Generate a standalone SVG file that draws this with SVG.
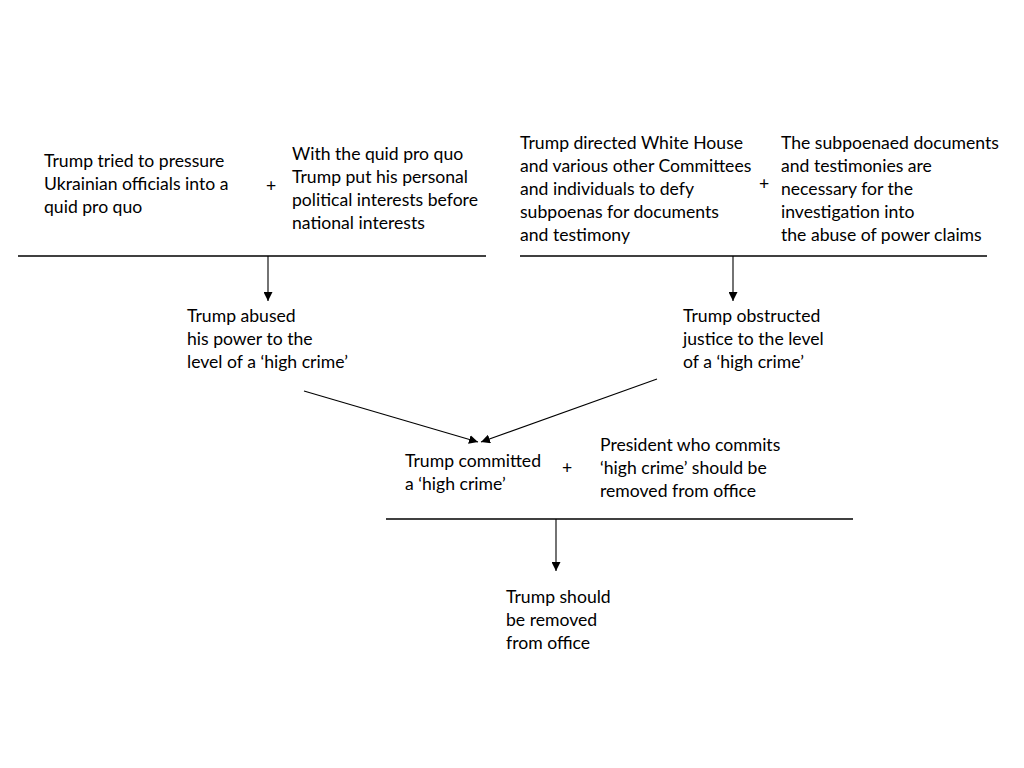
<svg xmlns="http://www.w3.org/2000/svg" width="1024" height="768" viewBox="0 0 1024 768">
<style>
text{font-family:Lato,"Open Sans","Liberation Sans",sans-serif;font-size:17.6px;fill:#000}
.bar{stroke:#000;stroke-width:1.3;fill:none}
.arr{stroke:#000;stroke-width:1.1;fill:none;marker-end:url(#ah)}
</style>
<defs>
<marker id="ah" viewBox="0 0 10 10" refX="10" refY="5" markerWidth="9" markerHeight="9" markerUnits="userSpaceOnUse" orient="auto">
<path d="M0,0 L10,5 L0,10 z" fill="#000"/>
</marker>
</defs>
<rect width="1024" height="768" fill="#fff"/>
<g id="connectors">
<line class="bar" x1="18" y1="256" x2="486" y2="256"/>
<line class="bar" x1="520" y1="256" x2="987" y2="256"/>
<line class="bar" x1="386" y1="519" x2="853" y2="519"/>
<line class="arr" x1="268" y1="256" x2="268" y2="301"/>
<line class="arr" x1="733" y1="256" x2="733" y2="301"/>
<line class="arr" x1="304" y1="391" x2="478" y2="442"/>
<line class="arr" x1="657" y1="379" x2="481" y2="442"/>
<line class="arr" x1="556" y1="519" x2="556" y2="571"/>
</g>
<g id="n1"><text x="44" y="167">Trump tried to pressure</text><text x="44" y="190">Ukrainian officials into a</text><text x="44" y="213">quid pro quo</text></g>
<g id="p1"><text x="266" y="192">+</text></g>
<g id="n2"><text x="292" y="160">With the quid pro quo</text><text x="292" y="183">Trump put his personal</text><text x="292" y="206">political interests before</text><text x="292" y="229">national interests</text></g>
<g id="n3"><text x="520" y="149">Trump directed White House</text><text x="520" y="172">and various other Committees</text><text x="520" y="195">and individuals to defy</text><text x="520" y="218">subpoenas for documents</text><text x="520" y="241">and testimony</text></g>
<g id="p2"><text x="759" y="190">+</text></g>
<g id="n4"><text x="781" y="149">The subpoenaed documents</text><text x="781" y="172">and testimonies are</text><text x="781" y="195">necessary for the</text><text x="781" y="218">investigation into</text><text x="781" y="241">the abuse of power claims</text></g>
<g id="n5"><text x="187" y="322">Trump abused</text><text x="187" y="345">his power to the</text><text x="187" y="368">level of a ‘high crime’</text></g>
<g id="n6"><text x="683" y="322">Trump obstructed</text><text x="683" y="345">justice to the level</text><text x="683" y="368">of a ‘high crime’</text></g>
<g id="n7"><text x="405" y="467">Trump committed</text><text x="405" y="490">a ‘high crime’</text></g>
<g id="p3"><text x="562" y="474">+</text></g>
<g id="n8"><text x="600" y="451">President who commits</text><text x="600" y="474">‘high crime’ should be</text><text x="600" y="497">removed from office</text></g>
<g id="n9"><text x="506" y="603">Trump should</text><text x="506" y="626">be removed</text><text x="506" y="649">from office</text></g>
</svg>
